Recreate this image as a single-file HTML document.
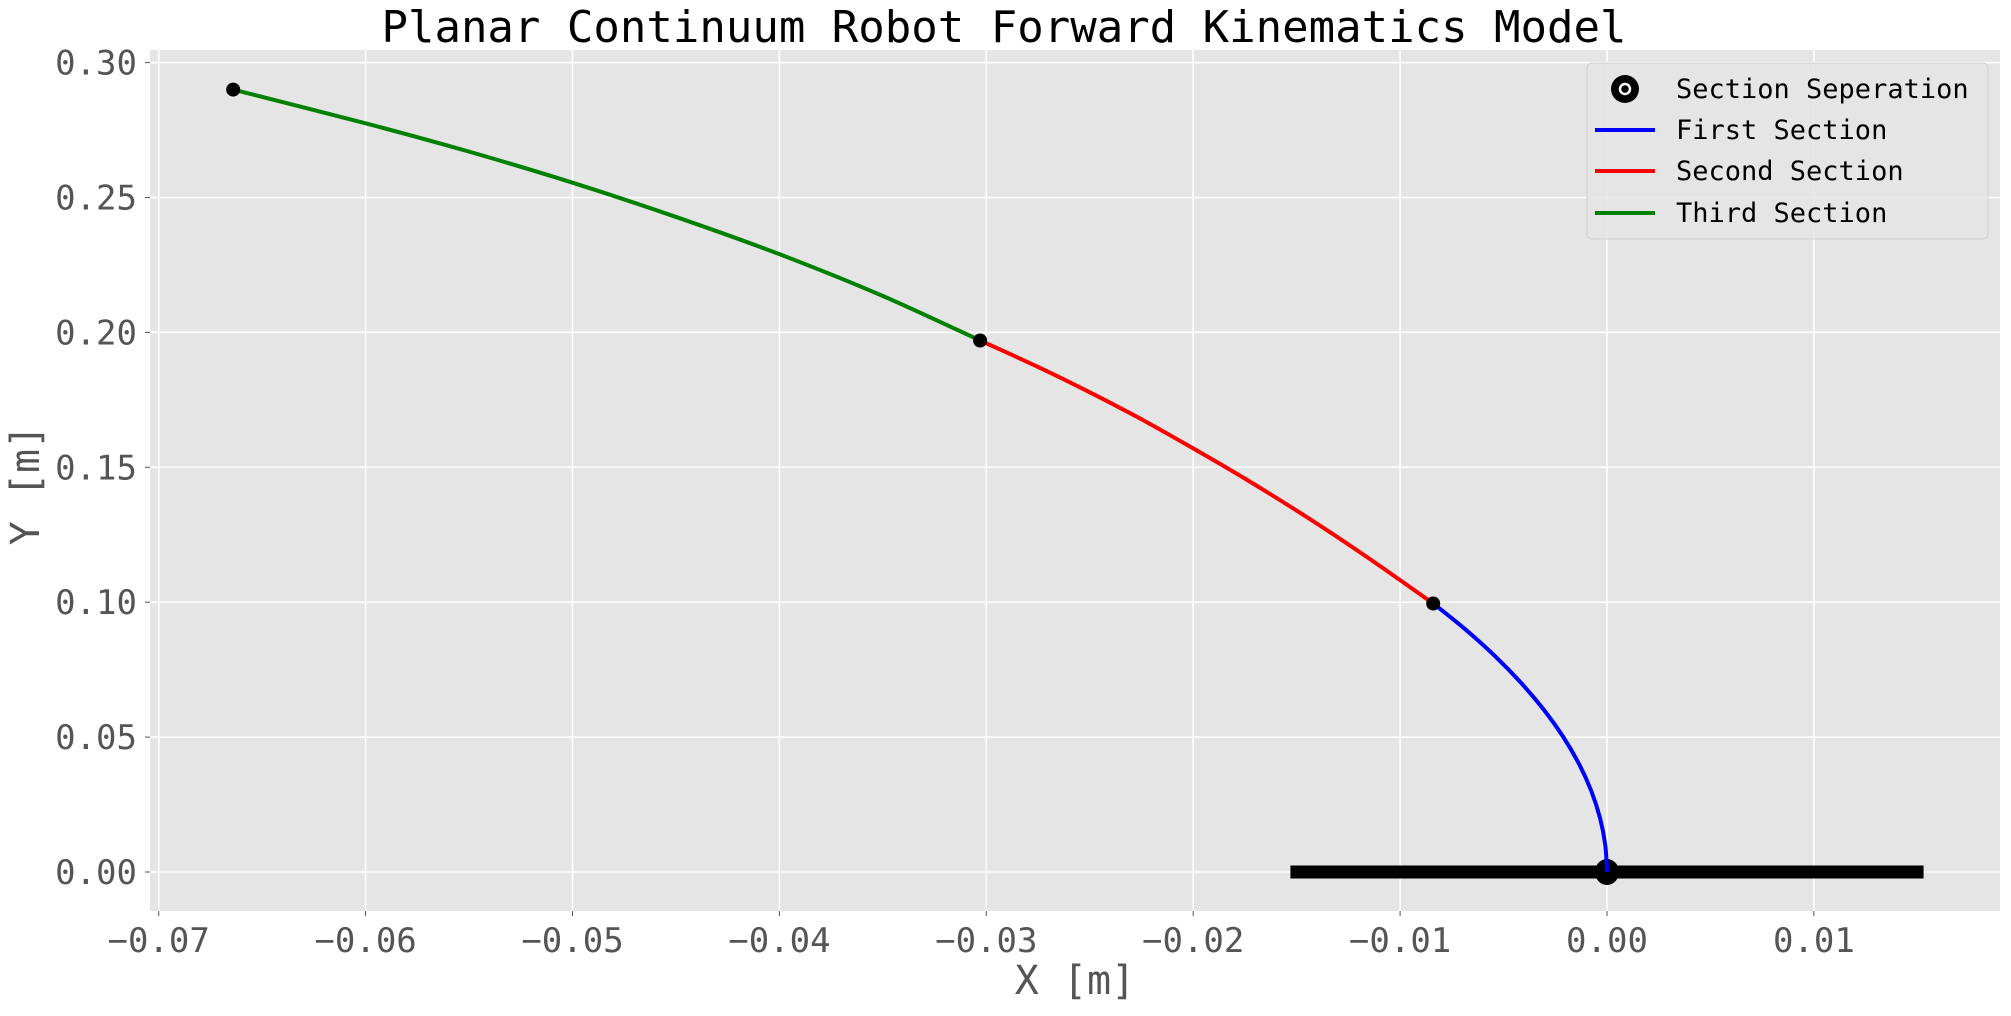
<!DOCTYPE html>
<html><head><meta charset="utf-8"><style>
html,body{margin:0;padding:0;background:#fff;}
svg text{font-family:"DejaVu Sans Mono","Liberation Mono",monospace;}
</style></head><body>
<svg id="chart" width="2011" height="1011" viewBox="0 0 2011 1011" xmlns="http://www.w3.org/2000/svg">
<rect x="0" y="0" width="2011" height="1011" fill="#fff"/>
<rect x="150" y="50" width="1850" height="861" fill="#e5e5e5"/>
<g id="grid"></g>
<g id="ticks"></g>
<g id="series"></g>
<text x="1004" y="42" font-size="44" text-anchor="middle" fill="#000">Planar Continuum Robot Forward Kinematics Model</text>
<text x="1075" y="994" font-size="40" text-anchor="middle" fill="#555">X [m]</text>
<text x="0" y="0" font-size="40" text-anchor="middle" fill="#555" transform="translate(39,485) rotate(-90)">Y [m]</text>
<g>
<rect x="1587" y="63" width="401" height="176" rx="5" fill="#e5e5e5" fill-opacity="0.85" stroke="#d0d0d0"/>
<g>
<circle cx="1625" cy="89" r="14" fill="#000"/><circle cx="1625" cy="89" r="5" fill="none" stroke="#fff" stroke-width="2.5"/>
<text x="1676" y="98" font-size="27" fill="#000">Section Seperation</text></g>
<g>
<line x1="1595" y1="130" x2="1655" y2="130" stroke="#0000ff" stroke-width="4"/>
<text x="1676" y="139" font-size="27" fill="#000">First Section</text></g>
<g>
<line x1="1595" y1="171" x2="1655" y2="171" stroke="#ff0000" stroke-width="4"/>
<text x="1676" y="180" font-size="27" fill="#000">Second Section</text></g>
<g>
<line x1="1595" y1="213" x2="1655" y2="213" stroke="#008000" stroke-width="4"/>
<text x="1676" y="222" font-size="27" fill="#000">Third Section</text></g>
</g>
</svg>
<script>
const xTicks = [-0.07,-0.06,-0.05,-0.04,-0.03,-0.02,-0.01,0.00,0.01];
const xTickLabels = ["\u22120.07","\u22120.06","\u22120.05","\u22120.04","\u22120.03","\u22120.02","\u22120.01","0.00","0.01"];
const yTicks = [0,0.05,0.10,0.15,0.20,0.25,0.30];
const yTickLabels = ["0.00","0.05","0.10","0.15","0.20","0.25","0.30"];
const firstX = [0,-0.000084,-0.000337,-0.000758,-0.001348,-0.002108,-0.003038,-0.004139,-0.00541,-0.006857,-0.00839];
const firstY = [0,0.01,0.02,0.03,0.04,0.05,0.06,0.07,0.08,0.09,0.0995];
const secondX = [-0.0084,-0.0115,-0.0145,-0.0175,-0.02,-0.0225,-0.025,-0.0275,-0.0303];
const secondY = [0.0995,0.1162,0.1315,0.1458,0.157,0.1678,0.1778,0.1872,0.197];
const thirdX = [-0.0303,-0.035,-0.04,-0.045,-0.05,-0.055,-0.06,-0.0664];
const thirdY = [0.197,0.2135,0.229,0.2428,0.2555,0.267,0.2775,0.290];
const sepX = [-0.0084,-0.0303,-0.0664];
const sepY = [0.0995,0.197,0.290];
const baseX = [-0.0153,0.0153];
const baseY = [0,0];

const NS="http://www.w3.org/2000/svg";
const X0=150,X1=2000,Y0=50,Y1=911;
function sx(v){return 1607+v*20690;}
function sy(v){return 872-v*2698;}
function mk(tag,attrs,parent){const e=document.createElementNS(NS,tag);for(const k in attrs)e.setAttribute(k,attrs[k]);parent.appendChild(e);return e;}
const grid=document.getElementById('grid'),ticks=document.getElementById('ticks'),series=document.getElementById('series');
xTicks.forEach((v,i)=>{
  const g=mk('line',{x1:sx(v),x2:sx(v),y1:Y0,y2:Y1,stroke:'#fff','stroke-width':1.5},grid);
  
  
  mk('line',{x1:sx(v),x2:sx(v),y1:Y1,y2:Y1+5,stroke:'#555','stroke-width':1},ticks);
  const t=mk('text',{x:sx(v),y:952,'font-size':34,'text-anchor':'middle',fill:'#555'},ticks);
  t.textContent=xTickLabels[i];
  
  
});
yTicks.forEach((v,i)=>{
  const g=mk('line',{x1:X0,x2:X1,y1:sy(v),y2:sy(v),stroke:'#fff','stroke-width':1.5},grid);
  
  
  mk('line',{x1:X0-5,x2:X0,y1:sy(v),y2:sy(v),stroke:'#555','stroke-width':1},ticks);
  const t=mk('text',{x:137,y:sy(v)+12,'font-size':34,'text-anchor':'end',fill:'#555'},ticks);
  t.textContent=yTickLabels[i];
  
  
});
function smoothPath(xs,ys){
  const p=xs.map((x,i)=>[sx(x),sy(ys[i])]);
  let d='M'+p[0][0]+','+p[0][1];
  for(let i=0;i<p.length-1;i++){
    const a=p[Math.max(i-1,0)],b=p[i],c=p[i+1],e=p[Math.min(i+2,p.length-1)];
    const c1=[b[0]+(c[0]-a[0])/6,b[1]+(c[1]-a[1])/6],c2=[c[0]-(e[0]-b[0])/6,c[1]-(e[1]-b[1])/6];
    d+=' C'+c1+' '+c2+' '+c;
  }
  return d;
}
const base=mk('line',{x1:sx(baseX[0]),x2:sx(baseX[1]),y1:sy(baseY[0]),y2:sy(baseY[1]),stroke:'#000','stroke-width':13},series);


const origin=mk('ellipse',{cx:sx(0),cy:sy(0),rx:12,ry:13,fill:'#000'},series);


[[firstX,firstY,'#0000ff','first-section-line'],[secondX,secondY,'#ff0000','second-section-line'],[thirdX,thirdY,'#008000','third-section-line']].forEach(s=>{
  const p=mk('path',{d:smoothPath(s[0],s[1]),fill:'none',stroke:s[2],'stroke-width':4,'stroke-linejoin':'round'},series);
  
  
});
sepX.forEach((x,i)=>{
  const c=mk('circle',{cx:sx(x),cy:sy(sepY[i]),r:7,fill:'#000'},series);
  
  
});
</script>
</body></html>
